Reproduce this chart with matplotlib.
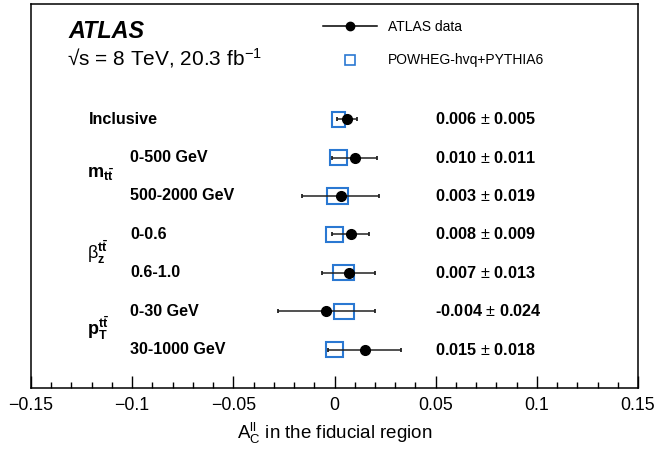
import matplotlib
matplotlib.use("Agg")
import matplotlib.pyplot as plt
from matplotlib.lines import Line2D
from matplotlib.ticker import MultipleLocator

plt.rcParams['font.family'] = ['Liberation Sans', 'DejaVu Sans']
plt.rcParams['mathtext.fontset'] = 'custom'
plt.rcParams['mathtext.rm'] = 'Liberation Sans'
plt.rcParams['mathtext.it'] = 'Liberation Sans:italic'
plt.rcParams['mathtext.bf'] = 'Liberation Sans:bold'
plt.rcParams['axes.unicode_minus'] = True

# ---- data ----
row_labels = ["Inclusive", "0-500 GeV", "500-2000 GeV", "0-0.6", "0.6-1.0", "0-30 GeV", "30-1000 GeV"]
row_has_group = [False, True, True, True, True, True, True]
group_labels = [r'$\mathbf{m}_{\mathbf{t\bar{t}}}$',
                r'$\mathrm{\beta}_{\mathbf{z}}^{\mathbf{t\bar{t}}}$',
                r'$\mathbf{p}_{\mathbf{T}}^{\mathbf{t\bar{t}}}$']
group_rows = [1.5, 3.5, 5.5]
data_val = [0.006, 0.010, 0.003, 0.008, 0.007, -0.004, 0.015]
data_err = [0.005, 0.011, 0.019, 0.009, 0.013, 0.024, 0.018]
pred_val = [0.002, 0.002, 0.0015, 0.000, 0.0045, 0.0047, 0.000]
pred_err = [0.003, 0.004, 0.005, 0.004, 0.005, 0.005, 0.004]

rows = list(range(len(row_labels)))
blue = '#2a78d2'

fig = plt.figure(figsize=(6.57, 4.49), dpi=100)
ax = fig.add_axes([31/657, 1-388/449, (638-31)/657, (388-4)/449])

# prediction boxes
ax.barh(rows, [2*e for e in pred_err], left=[v-e for v, e in zip(pred_val, pred_err)],
        height=0.4, fill=False, edgecolor=blue, linewidth=1.5, zorder=2)
# data points
ax.errorbar(data_val, rows, xerr=data_err, fmt='o', color='black', markersize=7,
            elinewidth=1.1, capsize=1.6, capthick=1.3, ecolor='#222222', zorder=3)

ax.set_xlim(-0.15, 0.15)
ax.set_ylim(7, -3)
ax.yaxis.set_visible(False)
ax.xaxis.set_major_locator(MultipleLocator(0.05))
ax.xaxis.set_minor_locator(MultipleLocator(0.01))
ax.tick_params(axis='x', which='major', direction='in', length=8.6, width=1.0, labelsize=12.8, pad=6.5)
ax.tick_params(axis='x', which='minor', direction='in', length=4.3, width=1.0)
ax.xaxis.set_major_formatter(plt.FuncFormatter(lambda v, p: ('%g' % round(v, 3)).replace('-', '\u2212')))
for s in ax.spines.values():
    s.set_linewidth(1.1)

ax.set_xlabel(r'A$_{\rm C}^{\rm ll}$ in the fiducial region', fontsize=13.5, labelpad=5)

# row labels and values
for i, lab in enumerate(row_labels):
    x = -0.101 if row_has_group[i] else -0.1215
    ax.text(x, i, lab, fontsize=11.6, fontweight='bold', va='center', ha='left')
    ax.text(0.0498, i, "%.3f $\\pm$ %.3f" % (data_val[i], data_err[i]),
            fontsize=11.7, fontweight='bold', va='center', ha='left')
for g, r in zip(group_labels, group_rows):
    ax.text(-0.1225, r - 0.05, g, fontsize=13, va='center', ha='left')

# ATLAS labels
ax.text(68/657, 1-31/449, 'ATLAS', transform=fig.transFigure, fontsize=16.8,
        fontweight='bold', fontstyle='italic', va='center', ha='left')
ax.text(67/657, 1-58/449, '\u221as = 8 TeV, 20.3 fb$^{-1}$', transform=fig.transFigure,
        fontsize=15, va='center', ha='left')

handles = [Line2D([], [], color='black', marker='o', markersize=6, linewidth=1.1),
           Line2D([], [], color=blue, marker='s', markersize=7, markerfacecolor='none',
                  markeredgewidth=1.2, linestyle='none')]
ax.legend(handles, ['ATLAS data', 'POWHEG-hvq+PYTHIA6'], loc='upper left',
          bbox_to_anchor=(323/657, 1-20/449), bbox_transform=fig.transFigure,
          frameon=False, fontsize=10, handlelength=3.9, handletextpad=0.75,
          labelspacing=1.4, borderpad=0, borderaxespad=0)

fig.savefig('out.png', dpi=100)
